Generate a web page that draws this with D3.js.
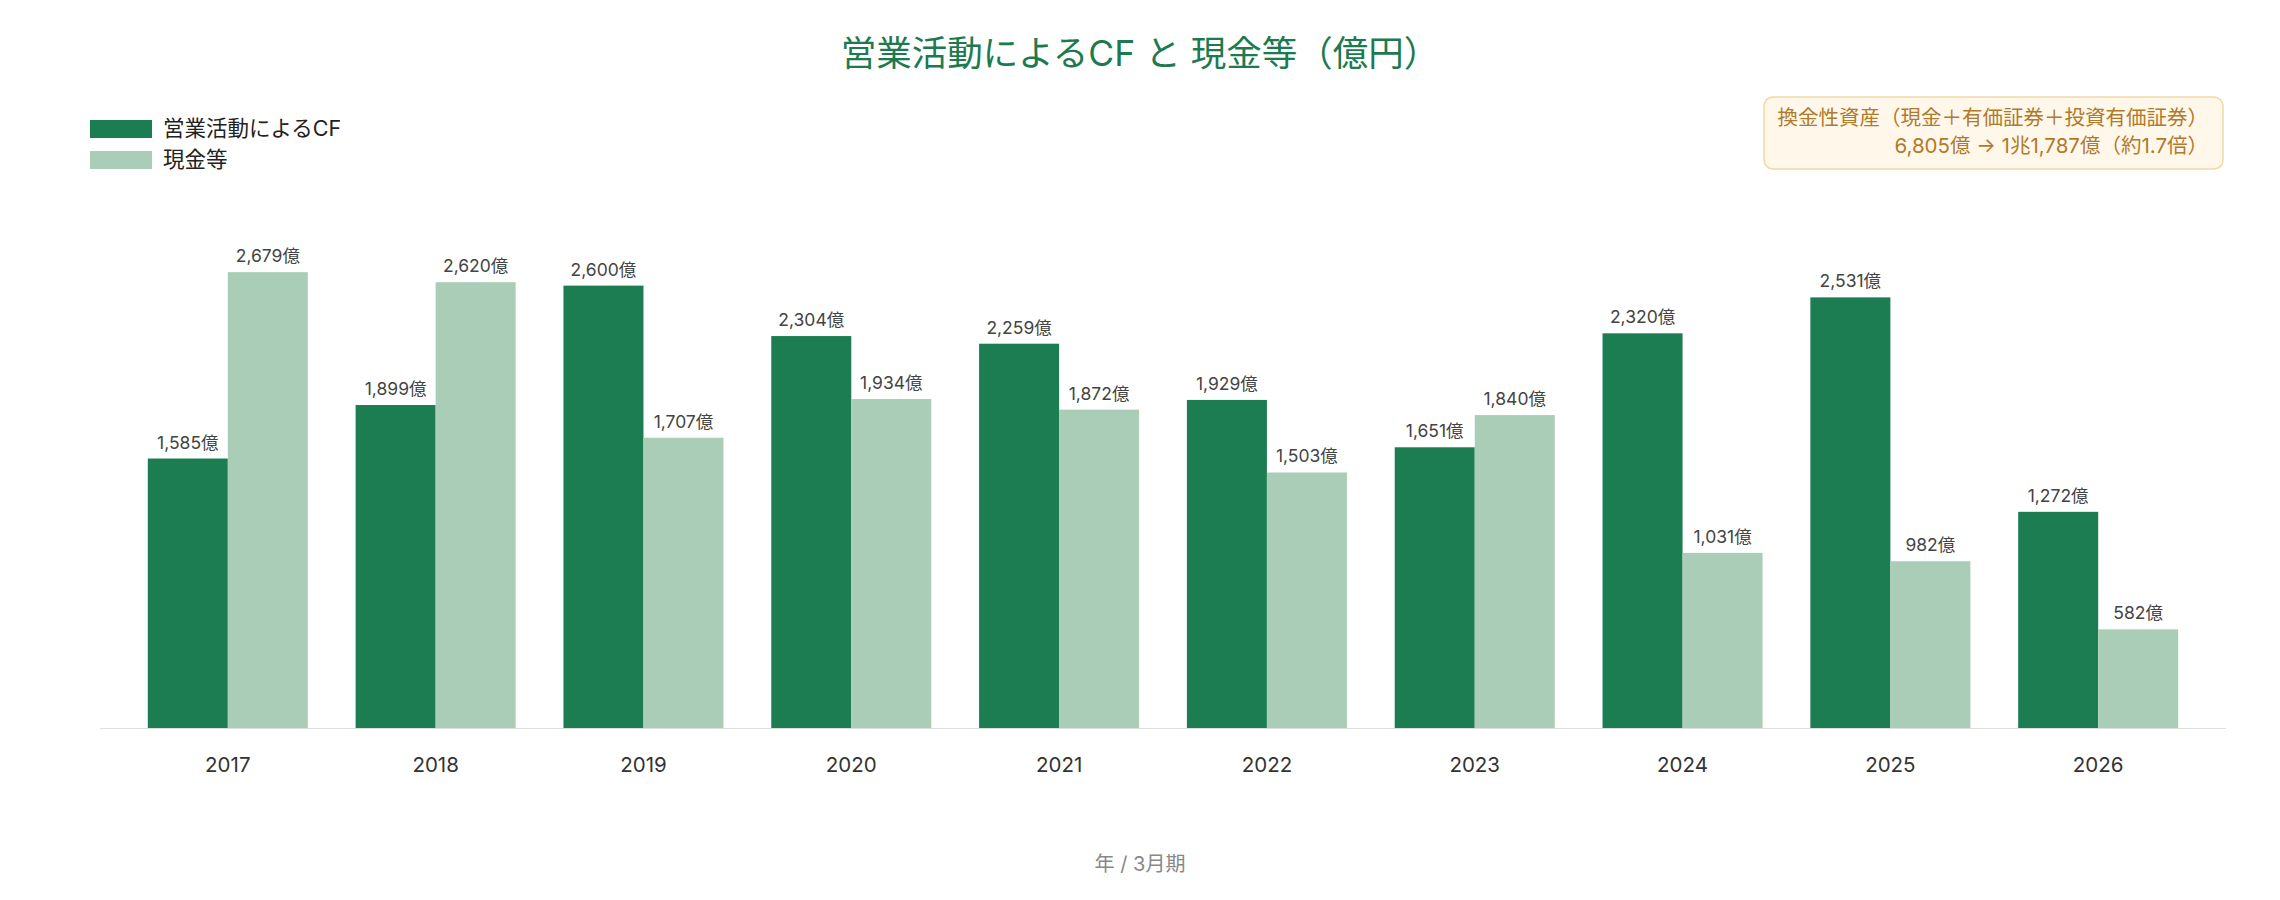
<!DOCTYPE html>
<html>
<head>
<meta charset="utf-8">
<script src="https://cdn.jsdelivr.net/npm/d3@7"></script>
<style>
  body { margin: 0; background: #fff; }
  svg { display: block; font-family: Inter, "Noto Sans CJK JP", sans-serif; }
</style>
</head>
<body>
<div class="chart"></div>
<script>
// 年 / 3月期
var years = ["2017", "2018", "2019", "2020", "2021", "2022", "2023", "2024", "2025", "2026"];
// 営業活動によるCF（億円）
var cfValues = [1585, 1899, 2600, 2304, 2259, 1929, 1651, 2320, 2531, 1272];
// 現金等（億円）
var cashValues = [2679, 2620, 1707, 1934, 1872, 1503, 1840, 1031, 982, 582];
var seriesNames = ["営業活動によるCF", "現金等"];
var seriesColors = ["#1d7d52", "#a9cdb6"];
var noteLines = ["換金性資産（現金＋有価証券＋投資有価証券）", "6,805億 → 1兆1,787億（約1.7倍）"];

var w = 2280;
var h = 900;

var svg = d3.select(".chart")
    .append("svg")
    .attr("width", w)
    .attr("height", h);

var rows = years.map(function (y, i) {
    return { year: y, values: [cfValues[i], cashValues[i]] };
});

var x0 = d3.scaleBand()
    .domain(years)
    .range([100, 2226])
    .padding(0.23);

var x1 = d3.scaleBand()
    .domain([0, 1])
    .range([0, x0.bandwidth()]);

var y = d3.scaleLinear()
    .domain([0, 2950])
    .range([728.5, 226]);

// title
svg.append("text")
    .text("営業活動によるCF と 現金等（億円）")
    .attr("x", w / 2)
    .attr("y", 66)
    .attr("text-anchor", "middle")
    .attr("font-size", 35.5)
    .attr("fill", "#1d7a4f");

// bars
var groups = svg.append("g")
    .selectAll("g")
    .data(rows)
    .enter().append("g")
    .attr("transform", function (d) { return "translate(" + x0(d.year) + ",0)"; });

groups.selectAll("rect")
    .data(function (d) { return d.values; })
    .enter().append("rect")
    .attr("x", function (d, i) { return x1(i); })
    .attr("y", function (d) { return y(d); })
    .attr("width", x1.bandwidth())
    .attr("height", function (d) { return y(0) - y(d); })
    .attr("fill", function (d, i) { return seriesColors[i]; });

groups.selectAll("text")
    .data(function (d) { return d.values; })
    .enter().append("text")
    .text(function (d) { return d3.format(",")(d) + "億"; })
    .attr("x", function (d, i) { return x1(i) + x1.bandwidth() / 2; })
    .attr("y", function (d) { return y(d) - 10; })
    .attr("text-anchor", "middle")
    .attr("font-size", 17.5)
    .attr("fill", "#444");

// x axis
var xAxis = svg.append("g")
    .attr("transform", "translate(0," + y(0) + ")")
    .call(d3.axisBottom(x0).tickSize(0).tickPadding(29));
xAxis.select(".domain").attr("stroke", "#ddd").attr("d", "M100,0H2226");
xAxis.selectAll("text")
    .attr("font-size", 20.5)
    .attr("fill", "#333")
    .attr("font-family", "Inter, \"Noto Sans CJK JP\", sans-serif");

svg.append("text")
    .text("年 / 3月期")
    .attr("x", w / 2)
    .attr("y", 871)
    .attr("text-anchor", "middle")
    .attr("font-size", 20)
    .attr("fill", "#888");

// legend
var legend = svg.append("g");
seriesNames.forEach(function (name, i) {
    legend.append("rect")
        .attr("x", 90)
        .attr("y", 120 + i * 31)
        .attr("width", 62)
        .attr("height", 18)
        .attr("fill", seriesColors[i]);
    legend.append("text")
        .text(name)
        .attr("x", 163)
        .attr("y", 136 + i * 31)
        .attr("font-size", 21.5)
        .attr("fill", "#222");
});

// note box
var note = svg.append("g");
note.append("rect")
    .attr("x", 1764)
    .attr("y", 97)
    .attr("width", 459)
    .attr("height", 72)
    .attr("rx", 9)
    .attr("fill", "#fff8ea")
    .attr("stroke", "#f0d9a6")
    .attr("stroke-width", 1.5);
note.selectAll("text")
    .data(noteLines)
    .enter().append("text")
    .text(function (d) { return d; })
    .attr("x", 2208)
    .attr("y", function (d, i) { return 125 + i * 28; })
    .attr("text-anchor", "end")
    .attr("font-size", 20.5)
    .attr("fill", "#b07a2c");
</script>
</body>
</html>
